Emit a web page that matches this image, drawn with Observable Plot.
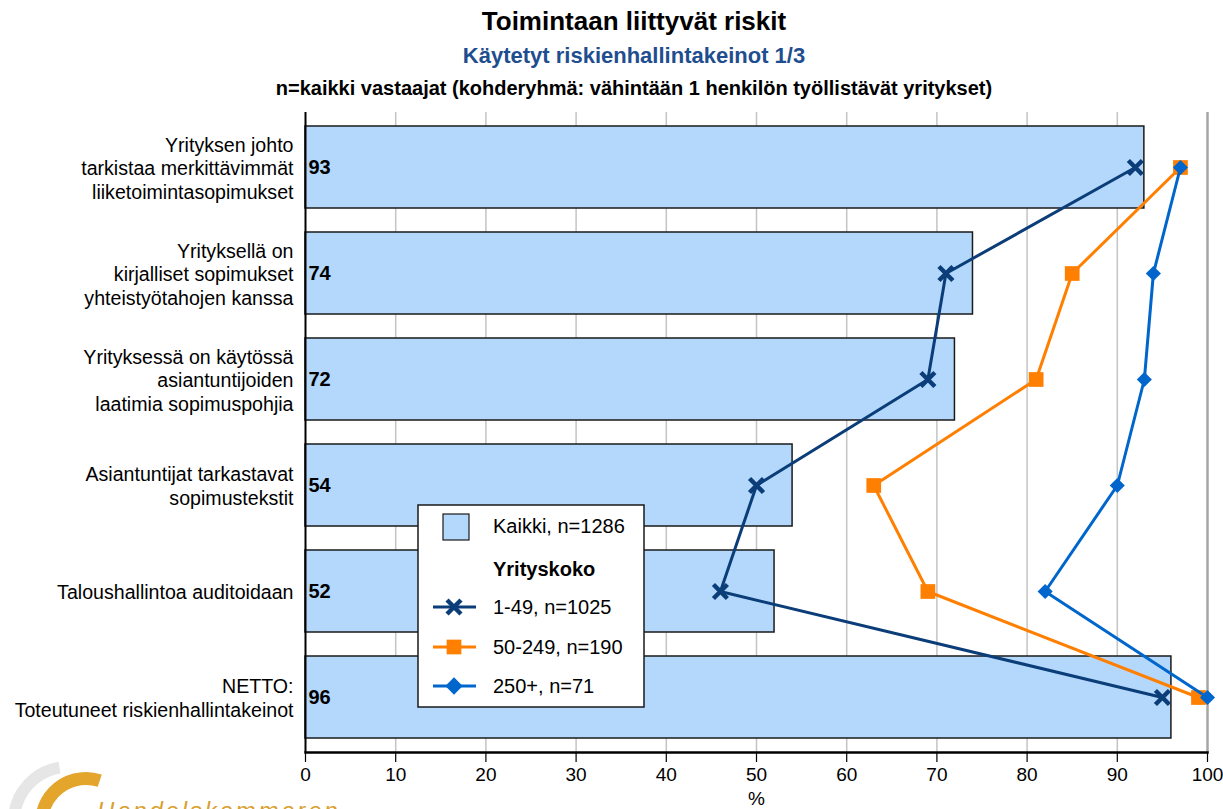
<!DOCTYPE html>
<html>
<head>
<meta charset="utf-8">
<script src="https://cdn.jsdelivr.net/npm/d3@7"></script>
<script src="https://cdn.jsdelivr.net/npm/@observablehq/plot@0.6"></script>
<style>
  html, body { margin: 0; padding: 0; background: #fff; }
  body { width: 1223px; height: 809px; overflow: hidden; position: relative; font-family: "Liberation Sans", Arial, sans-serif; }
  .t { position: absolute; left: 0; width: 1268px; text-align: center; font-weight: bold; white-space: nowrap; line-height: 1; }
  #chart { position: absolute; left: 0; top: 0; }
  #legend { position: absolute; left: 417px; top: 504px; }
  #logo { position: absolute; left: 0; top: 755px; }
</style>
</head>
<body>
<div class="t" id="title" style="top:8px;font-size:26px;color:#000;">Toimintaan liittyvät riskit</div>
<div class="t" id="subtitle" style="top:45px;font-size:22px;color:#1f4e8f;">Käytetyt riskienhallintakeinot 1/3</div>
<div class="t" id="note" style="top:78px;font-size:20px;color:#000;">n=kaikki vastaajat (kohderyhmä: vähintään 1 henkilön työllistävät yritykset)</div>
<div id="chart"></div>
<div id="legend"></div>
<div id="logo"></div>
<script>
// ---- data ----
const categories = [
  "Yrityksen johto\ntarkistaa merkittävimmät\nliiketoimintasopimukset",
  "Yrityksellä on\nkirjalliset sopimukset\nyhteistyötahojen kanssa",
  "Yrityksessä on käytössä\nasiantuntijoiden\nlaatimia sopimuspohjia",
  "Asiantuntijat tarkastavat\nsopimustekstit",
  "Taloushallintoa auditoidaan",
  "NETTO:\nToteutuneet riskienhallintakeinot"
];
const kaikki = [93, 74, 72, 54, 52, 96];
const size1_49 = [92, 71, 69, 50, 46, 95];
const size50_249 = [97, 85, 81, 63, 69, 99];
const size250 = [97, 94, 93, 90, 82, 100];
const seriesNames = ["1-49, n=1025", "50-249, n=190", "250+, n=71"];
const barName = "Kaikki, n=1286";
const legendHeader = "Yrityskoko";
const xTicks = [0, 10, 20, 30, 40, 50, 60, 70, 80, 90, 100];
const xLabel = "%";

const colors = ["#0b3d79", "#ff7f00", "#0066cc"];
const symbols = ["times", "square", "diamond2"];
const symbolR = [6.4, 8.3, 6.8];

const bars = categories.map((c, i) => ({cat: c, value: kaikki[i]}));
const seriesValues = [size1_49, size50_249, size250];
const points = seriesValues.map((vals, s) => categories.map((c, i) => ({cat: c, value: vals[i], series: seriesNames[s]})));

const font = "Liberation Sans, Arial, sans-serif";

const lineMarks = [];
points.forEach((pts, s) => {
  lineMarks.push(Plot.line(pts, {x: "value", y: "cat", stroke: colors[s], strokeWidth: 3}));
  if (symbols[s] === "times") {
    lineMarks.push(Plot.dot(pts, {x: "value", y: "cat", symbol: "times", stroke: colors[s], strokeWidth: 4.5, r: symbolR[s]}));
  } else {
    lineMarks.push(Plot.dot(pts, {x: "value", y: "cat", symbol: symbols[s], fill: colors[s], stroke: "none", r: symbolR[s]}));
  }
});

const chart = Plot.plot({
  width: 1223,
  height: 809,
  marginLeft: 305,
  marginRight: 16,
  marginTop: 112,
  marginBottom: 57,
  style: {fontFamily: font, fontSize: "19px", color: "#000", background: "transparent"},
  x: {domain: [0, 100], label: null},
  y: {domain: categories, paddingInner: 0.224, paddingOuter: 0.112, axis: null},
  marks: [
    Plot.ruleX(xTicks.filter(d => d > 0 && d < 100), {stroke: "#c4c4c4", strokeWidth: 1.5}),
    Plot.ruleX([100], {stroke: "#a6a6a6", strokeWidth: 2.5}),
    Plot.barX(bars, {x: "value", y: "cat", fill: "#b3d8fb", stroke: "#1a1a1a", strokeWidth: 1.5}),
    Plot.ruleX([0], {stroke: "#000", strokeWidth: 2}),
    Plot.frame({anchor: "bottom", stroke: "#000", strokeWidth: 2.5}),
    Plot.axisX({ticks: xTicks, tickSize: 10, tickPadding: 5, fontSize: 19, stroke: "#000", strokeWidth: 1.2,
      label: xLabel, labelAnchor: "center", labelArrow: "none", labelOffset: 52}),
    Plot.text(bars, {x: 0, y: "cat", text: d => String(d.value), textAnchor: "start", dx: 3, fontWeight: "bold", fontSize: 20, fill: "#000"}),
    Plot.text(categories, {y: d => d, text: d => d, frameAnchor: "left", textAnchor: "end", dx: -12, fontSize: 19.6, lineHeight: 1.2, fill: "#000"}),
    ...lineMarks
  ]
});
document.getElementById("chart").appendChild(chart);

// ---- legend ----
const lg = d3.select("#legend").append("svg").attr("width", 230).attr("height", 206)
  .style("font-family", font).style("font-size", "20px");
lg.append("rect").attr("x", 1).attr("y", 1).attr("width", 226).attr("height", 202)
  .attr("fill", "#fff").attr("stroke", "#1a1a1a").attr("stroke-width", 1.5);
lg.append("rect").attr("x", 26).attr("y", 10).attr("width", 26).attr("height", 26)
  .attr("fill", "#b3d8fb").attr("stroke", "#1a1a1a").attr("stroke-width", 1.2);
lg.append("text").attr("x", 76).attr("y", 29).text(barName);
lg.append("text").attr("x", 76).attr("y", 72).attr("font-weight", "bold").text(legendHeader);
seriesNames.forEach((name, s) => {
  const cy = [103, 143, 182][s];
  lg.append("line").attr("x1", 16).attr("x2", 59).attr("y1", cy).attr("y2", cy)
    .attr("stroke", colors[s]).attr("stroke-width", 3);
  const sym = symbols[s] === "times" ? d3.symbolTimes : symbols[s] === "square" ? d3.symbolSquare : d3.symbolDiamond2;
  const r = symbols[s] === "diamond2" ? 7.8 : symbolR[s];
  const p = lg.append("path").attr("transform", `translate(37,${cy})`).attr("d", d3.symbol(sym, Math.PI * r * r)());
  if (symbols[s] === "times") p.attr("fill", "none").attr("stroke", colors[s]).attr("stroke-width", 4.5);
  else p.attr("fill", colors[s]);
  lg.append("text").attr("x", 76).attr("y", cy + 7).text(name);
});

// ---- logo (decoration) ----
const lo = d3.select("#logo").append("svg").attr("width", 380).attr("height", 54);
lo.append("path").attr("d", d3.arc()({innerRadius: 48, outerRadius: 60, startAngle: -Math.PI * 0.05, endAngle: -Math.PI * 0.75}))
  .attr("transform", "translate(68,66)").attr("fill", "#e6e6e6");
lo.append("path").attr("d", d3.arc()({innerRadius: 38, outerRadius: 51, startAngle: Math.PI * 0.1, endAngle: -Math.PI * 0.62}))
  .attr("transform", "translate(86,68)").attr("fill", "#e3a52b");
lo.append("text").attr("x", 97).attr("y", 64).attr("font-family", font).attr("font-style", "italic")
  .attr("font-size", 24).attr("letter-spacing", 2.8).attr("fill", "#d9a030").text("Handelskammaren");
</script>
</body>
</html>
